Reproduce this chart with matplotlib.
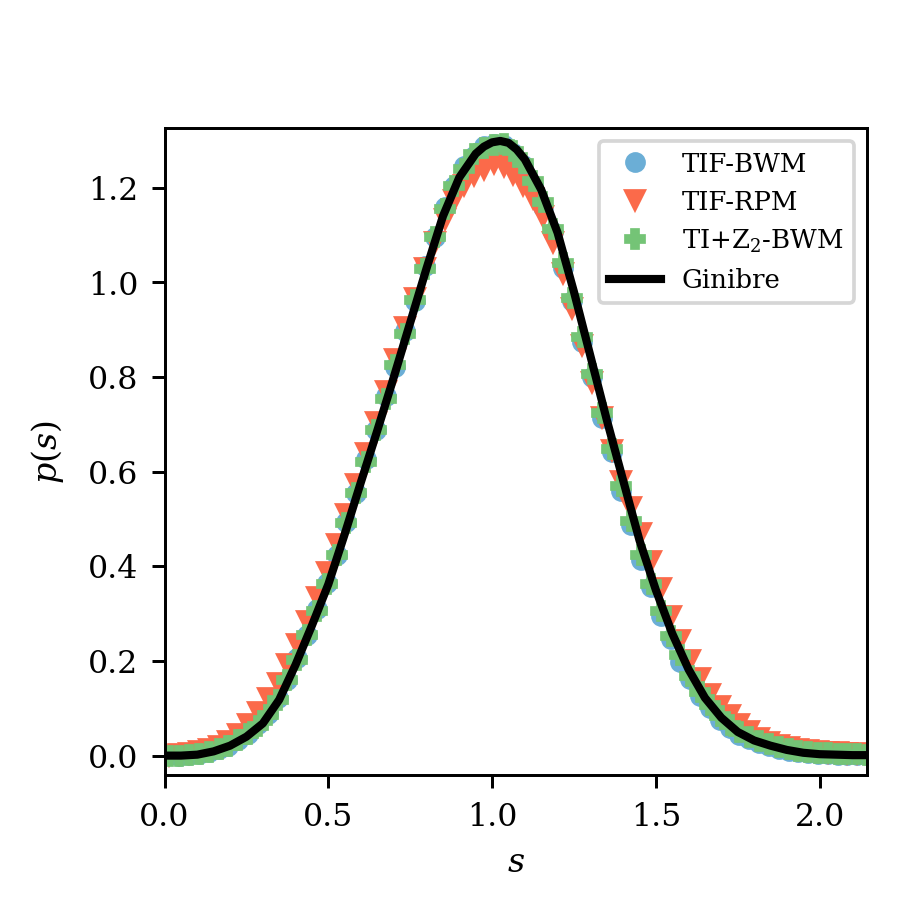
import numpy as np
import matplotlib
matplotlib.use("Agg")
import matplotlib.pyplot as plt

plt.rcParams['font.family'] = 'serif'
plt.rcParams['font.serif'] = ['DejaVu Serif']
plt.rcParams['mathtext.fontset'] = 'dejavuserif'
plt.rcParams['font.size'] = 8.5

# histogram bin centres (same bins for the three models)
s_bins = [0.015, 0.045, 0.075, 0.105, 0.135, 0.165, 0.195, 0.225, 0.255, 0.285,
          0.315, 0.345, 0.375, 0.405, 0.435, 0.465, 0.495, 0.525, 0.555, 0.585,
          0.615, 0.645, 0.675, 0.705, 0.735, 0.765, 0.795, 0.825, 0.855, 0.885,
          0.915, 0.945, 0.975, 1.005, 1.035, 1.065, 1.095, 1.125, 1.155, 1.185,
          1.215, 1.245, 1.275, 1.305, 1.335, 1.365, 1.395, 1.425, 1.455, 1.485,
          1.515, 1.545, 1.575, 1.605, 1.635, 1.665, 1.695, 1.725, 1.755, 1.785,
          1.815, 1.845, 1.875, 1.905, 1.935, 1.965, 1.995, 2.025, 2.055, 2.085,
          2.115, 2.145]

p_tif_bwm = [0.001, 0.000, 0.002, 0.004, 0.008, 0.014, 0.021, 0.034, 0.045, 0.066,
             0.087, 0.122, 0.160, 0.207, 0.254, 0.310, 0.365, 0.424, 0.494, 0.556,
             0.627, 0.688, 0.760, 0.822, 0.897, 0.961, 1.034, 1.095, 1.160, 1.203,
             1.245, 1.268, 1.289, 1.292, 1.291, 1.273, 1.249, 1.206, 1.160, 1.106,
             1.030, 0.960, 0.874, 0.800, 0.713, 0.641, 0.559, 0.488, 0.414, 0.356,
             0.296, 0.247, 0.198, 0.162, 0.125, 0.100, 0.075, 0.059, 0.044, 0.035,
             0.026, 0.020, 0.015, 0.010, 0.007, 0.005, 0.003, 0.003, 0.002, 0.001,
             0.001, 0.001]

p_tif_rpm = [0.002, 0.004, 0.006, 0.009, 0.013, 0.020, 0.031, 0.046, 0.066, 0.093,
             0.122, 0.154, 0.193, 0.236, 0.284, 0.335, 0.388, 0.447, 0.510, 0.573,
             0.640, 0.705, 0.770, 0.838, 0.905, 0.968, 1.030, 1.085, 1.135, 1.175,
             1.205, 1.228, 1.240, 1.252, 1.246, 1.230, 1.206, 1.178, 1.140, 1.085,
             1.020, 0.945, 0.868, 0.790, 0.715, 0.645, 0.580, 0.525, 0.470, 0.412,
             0.355, 0.296, 0.245, 0.202, 0.163, 0.130, 0.105, 0.085, 0.066, 0.051,
             0.037, 0.028, 0.023, 0.018, 0.015, 0.012, 0.010, 0.008, 0.007, 0.006,
             0.005, 0.004]

p_tiz2_bwm = [0.000, 0.000, 0.001, 0.003, 0.007, 0.013, 0.021, 0.032, 0.045, 0.063,
              0.086, 0.118, 0.159, 0.203, 0.254, 0.305, 0.362, 0.423, 0.491, 0.556,
              0.621, 0.689, 0.753, 0.825, 0.890, 0.962, 1.028, 1.097, 1.155, 1.204,
              1.240, 1.271, 1.285, 1.290, 1.293, 1.278, 1.252, 1.214, 1.171, 1.112,
              1.042, 0.968, 0.885, 0.806, 0.724, 0.647, 0.569, 0.495, 0.423, 0.362,
              0.306, 0.253, 0.212, 0.168, 0.134, 0.106, 0.083, 0.065, 0.050, 0.040,
              0.031, 0.024, 0.018, 0.014, 0.010, 0.008, 0.006, 0.005, 0.004, 0.003,
              0.003, 0.002]

# Ginibre curve
s_gin = [0.00, 0.05, 0.10, 0.15, 0.20, 0.25, 0.30, 0.35, 0.40, 0.45, 0.50, 0.55,
         0.60, 0.65, 0.70, 0.75, 0.80, 0.85, 0.90, 0.95, 0.975, 1.00, 1.025, 1.05,
         1.075, 1.10, 1.15, 1.20, 1.25, 1.30, 1.35, 1.40, 1.45, 1.50, 1.55, 1.60,
         1.65, 1.70, 1.75, 1.80, 1.85, 1.90, 1.95, 2.00, 2.05, 2.10, 2.15]
p_gin = [0.000, 0.000, 0.002, 0.009, 0.021, 0.040, 0.068, 0.118, 0.192, 0.275,
         0.362, 0.468, 0.579, 0.688, 0.800, 0.915, 1.030, 1.140, 1.222, 1.272,
         1.287, 1.296, 1.299, 1.295, 1.281, 1.260, 1.196, 1.105, 0.980, 0.845,
         0.710, 0.582, 0.455, 0.350, 0.258, 0.182, 0.122, 0.080, 0.050, 0.032,
         0.021, 0.012, 0.006, 0.003, 0.002, 0.001, 0.001]

fig = plt.figure(figsize=(3.42, 3.42), dpi=267)
ax = fig.add_axes([0.1802, 0.1506, 0.7694, 0.7089])

ax.plot(s_bins, p_tif_bwm, 'o', ms=4.6, color='#6baed6', label='TIF-BWM')
ax.plot(s_bins, p_tif_rpm, 'v', ms=5.0, color='#fb6a4a', label='TIF-RPM')
ax.plot(s_bins, p_tiz2_bwm, 'P', ms=4.6, color='#74c476', label=r'TI+$\mathrm{Z}_2$-BWM')
ax.plot(s_gin, p_gin, '-', lw=2.2, color='k', label='Ginibre')

ax.set_xlim(0, 2.145)
ax.set_ylim(-0.042, 1.326)
ax.set_xticks([0.0, 0.5, 1.0, 1.5, 2.0])
ax.set_yticks([0.0, 0.2, 0.4, 0.6, 0.8, 1.0, 1.2])
ax.set_xlabel(r'$s$', fontsize=9)
ax.set_ylabel(r'$p(s)$', fontsize=9, labelpad=6)
ax.legend(loc='upper right', fontsize=7.0)

fig.savefig('out.png', dpi=267)
